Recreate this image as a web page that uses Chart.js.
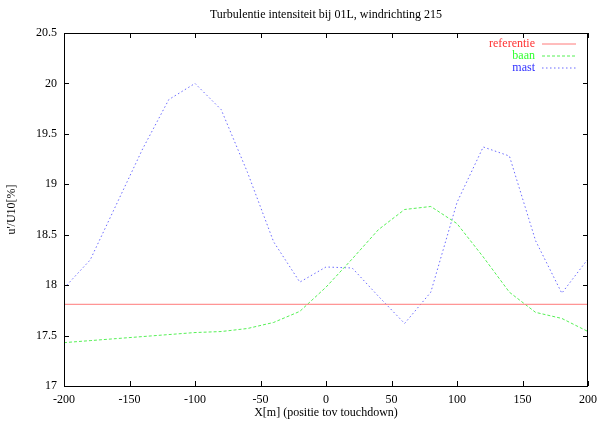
<!DOCTYPE html>
<html>
<head>
<meta charset="utf-8">
<script src="https://cdn.jsdelivr.net/npm/chart.js@4"></script>
<style>
  html, body { margin: 0; padding: 0; background: #fff; }
  #wrap { width: 604px; height: 425px; }
</style>
</head>
<body>
<div id="wrap"><canvas id="c" width="604" height="425"></canvas></div>
<script>
// Positions along the runway (m, relative to touchdown)
const positions = [-200, -180, -160, -140, -120, -100, -80, -60, -40, -20, 0,
                   20, 40, 60, 80, 100, 120, 140, 160, 180, 200];
// Turbulence intensity u'/U10 [%]
const referentie = 17.81;
const baan = [17.43, 17.45, 17.47, 17.49, 17.51, 17.53, 17.54, 17.57, 17.63, 17.74, 17.98,
              18.26, 18.55, 18.75, 18.78, 18.61, 18.28, 17.93, 17.73, 17.67, 17.54];
const mast = [17.97, 18.25, 18.80, 19.35, 19.84, 20.00, 19.74, 19.12, 18.43, 18.03, 18.18,
              18.17, 17.89, 17.62, 17.93, 18.82, 19.37, 19.28, 18.44, 17.92, 18.26];

const xTicks = [-200, -150, -100, -50, 0, 50, 100, 150, 200];
const yTicks = [17, 17.5, 18, 18.5, 19, 19.5, 20, 20.5];

const titleText = 'Turbulentie intensiteit bij 01L, windrichting 215';
const xTitle = 'X[m] (positie tov touchdown)';
const yTitle = "u'/U10[%]";

const FONT = '"Liberation Serif", "DejaVu Serif", serif';

const RED = '#ff7a7a';
const GREEN = '#55f055';
const BLUE = '#6a6aff';

const seriesLegend = [
  { label: 'referentie', text: '#ff3030', color: RED, dash: [] },
  { label: 'baan', text: '#30ff30', color: GREEN, dash: [3, 2] },
  { label: 'mast', text: '#3030ff', color: BLUE, dash: [1.5, 2.5] }
];

// Frame, inward ticks, titles and legend in gnuplot style
const framePlugin = {
  id: 'frame',
  afterDraw(chart) {
    const { ctx, chartArea: a, scales } = chart;
    ctx.save();
    ctx.strokeStyle = '#000';
    ctx.lineWidth = 1;
    ctx.strokeRect(Math.round(a.left) + 0.5, Math.round(a.top) + 0.5,
                   Math.round(a.right - a.left) - 1, Math.round(a.bottom - a.top));
    const tl = 5;
    ctx.beginPath();
    xTicks.forEach(v => {
      const px = Math.round(scales.x.getPixelForValue(v)) + 0.5;
      ctx.moveTo(px, a.bottom); ctx.lineTo(px, a.bottom - tl);
      ctx.moveTo(px, a.top); ctx.lineTo(px, a.top + tl);
    });
    yTicks.forEach(v => {
      const py = Math.round(scales.y.getPixelForValue(v)) + 0.5;
      ctx.moveTo(a.left, py); ctx.lineTo(a.left + tl, py);
      ctx.moveTo(a.right, py); ctx.lineTo(a.right - tl, py);
    });
    ctx.stroke();

    ctx.fillStyle = '#000';
    ctx.font = '12px ' + FONT;
    ctx.textAlign = 'center';
    ctx.textBaseline = 'middle';
    ctx.fillText(titleText, (a.left + a.right) / 2, 15);
    ctx.fillText(xTitle, (a.left + a.right) / 2, 413);
    ctx.save();
    ctx.translate(12, (a.top + a.bottom) / 2);
    ctx.rotate(-Math.PI / 2);
    ctx.fillText(yTitle, 0, 0);
    ctx.restore();

    // Legend: right-aligned labels with line samples
    const ys = [44, 56, 67.5];
    seriesLegend.forEach((s, i) => {
      ctx.fillStyle = s.text;
      ctx.textAlign = 'right';
      ctx.fillText(s.label, 535, ys[i]);
      ctx.strokeStyle = s.color;
      ctx.setLineDash(s.dash);
      ctx.beginPath();
      ctx.moveTo(542, Math.round(ys[i]));
      ctx.lineTo(576, Math.round(ys[i]));
      ctx.stroke();
      ctx.setLineDash([]);
    });
    ctx.restore();
  }
};

const toPoints = vals => positions.map((x, i) => ({ x, y: vals[i] }));

new Chart(document.getElementById('c'), {
  type: 'line',
  data: {
    datasets: [
      { label: 'referentie', data: [{ x: -200, y: referentie }, { x: 200, y: referentie }],
        borderColor: RED, borderWidth: 1, pointRadius: 0, tension: 0 },
      { label: 'baan', data: toPoints(baan),
        borderColor: GREEN, borderWidth: 1, borderDash: [3, 2], pointRadius: 0, tension: 0 },
      { label: 'mast', data: toPoints(mast),
        borderColor: BLUE, borderWidth: 1, borderDash: [1.5, 2.5], pointRadius: 0, tension: 0 }
    ]
  },
  options: {
    responsive: false,
    animation: false,
    layout: { padding: { top: 33, right: 15, left: 0, bottom: 0 } },
    plugins: { legend: { display: false }, tooltip: { enabled: false }, title: { display: false } },
    scales: {
      x: {
        type: 'linear', min: -200, max: 200,
        afterBuildTicks: s => { s.ticks = xTicks.map(v => ({ value: v })); },
        afterFit: s => { s.height = 39; },
        grid: { display: false, drawTicks: false },
        border: { display: false },
        ticks: { color: '#000', padding: 7, maxRotation: 0, font: { family: FONT, size: 12 },
                 callback: v => String(v) }
      },
      y: {
        type: 'linear', min: 17, max: 20.5,
        afterBuildTicks: s => { s.ticks = yTicks.map(v => ({ value: v })); },
        afterFit: s => { s.width = 64; },
        grid: { display: false, drawTicks: false },
        border: { display: false },
        ticks: { color: '#000', padding: 7, font: { family: FONT, size: 12 },
                 callback: v => String(v) }
      }
    }
  },
  plugins: [framePlugin]
});
</script>
</body>
</html>
